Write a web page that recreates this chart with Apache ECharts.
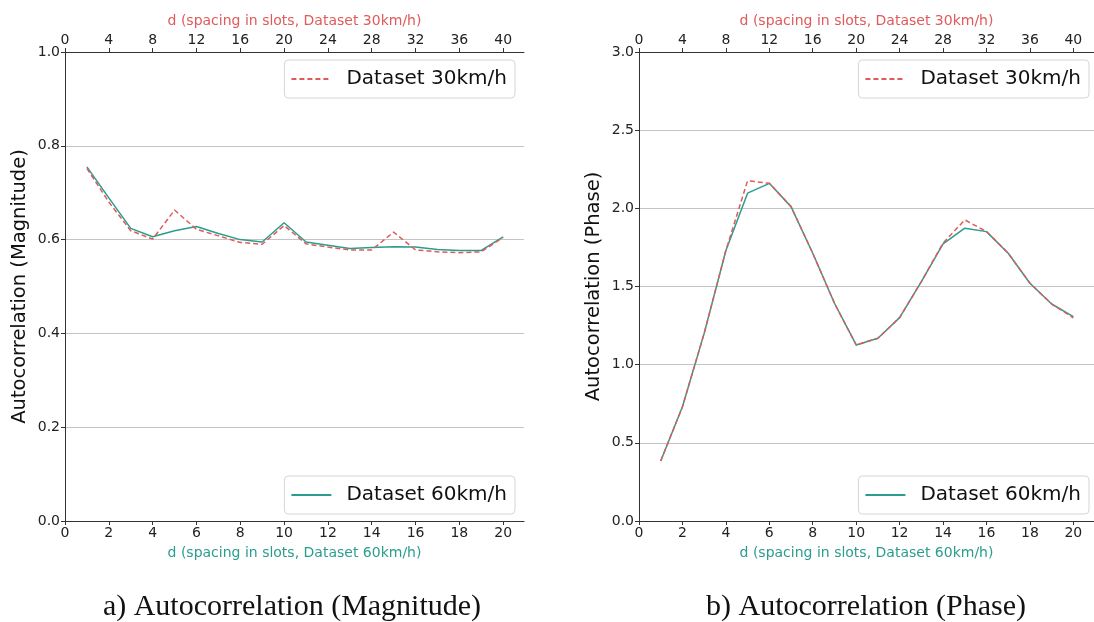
<!DOCTYPE html>
<html>
<head>
<meta charset="utf-8">
<script src="https://cdn.jsdelivr.net/npm/echarts@6/dist/echarts.min.js"></script>
<style>
  html, body { margin: 0; padding: 0; background: #fff; }
  #chart { width: 1094px; height: 622px; }
</style>
</head>
<body>
<div id="chart"></div>
<script>
// d values (spacing in slots)
const d60 = [1, 2, 3, 4, 5, 6, 7, 8, 9, 10, 11, 12, 13, 14, 15, 16, 17, 18, 19, 20]
const slots30 = [2, 4, 6, 8, 10, 12, 14, 16, 18, 20, 22, 24, 26, 28, 30, 32, 34, 36, 38, 40]

const mag60 = [0.755, 0.689, 0.624, 0.606, 0.619, 0.628, 0.613, 0.600, 0.595, 0.636,
  0.595, 0.588, 0.581, 0.583, 0.585, 0.584, 0.579, 0.577, 0.577, 0.606]
const mag30 = [0.752, 0.680, 0.619, 0.601, 0.663, 0.622, 0.608, 0.594, 0.590, 0.630,
  0.591, 0.584, 0.578, 0.578, 0.616, 0.578, 0.574, 0.572, 0.574, 0.605]

const phase60 = [0.384, 0.731, 1.200, 1.730, 2.097, 2.160, 2.011, 1.713, 1.393, 1.126,
  1.169, 1.301, 1.531, 1.772, 1.873, 1.851, 1.713, 1.521, 1.388, 1.307]
const phase30 = [0.384, 0.731, 1.200, 1.730, 2.177, 2.160, 2.011, 1.713, 1.393, 1.126,
  1.169, 1.301, 1.531, 1.778, 1.926, 1.851, 1.713, 1.521, 1.388, 1.300]

const bottomTicks = [0, 2, 4, 6, 8, 10, 12, 14, 16, 18, 20]
const topTicks = [0, 4, 8, 12, 16, 20, 24, 28, 32, 36, 40]
const magTicks = [0, 0.2, 0.4, 0.6, 0.8, 1.0]
const phaseTicks = [0, 0.5, 1.0, 1.5, 2.0, 2.5, 3.0]

const RED = '#e05a5a'
const TEAL = '#2a9d8f'
const FONT = 'DejaVu Sans'
const AXIS = '#333'

const chart = echarts.init(document.getElementById('chart'))

const tickLabel = { color: '#222', fontSize: 14, fontFamily: FONT }

function xAxes(gridIndex) {
  return [
    {
      gridIndex, type: 'value', position: 'bottom', min: 0, max: 20.95,
      name: 'd (spacing in slots, Dataset 60km/h)', nameLocation: 'middle', nameGap: 25,
      nameTextStyle: { color: TEAL, fontSize: 14, fontFamily: FONT },
      axisLine: { onZero: false, lineStyle: { color: AXIS } },
      axisTick: { length: 4, customValues: bottomTicks, lineStyle: { color: AXIS } },
      axisLabel: { ...tickLabel, margin: 5, customValues: bottomTicks },
      splitLine: { show: false },
    },
    {
      gridIndex, type: 'value', position: 'top', min: 0, max: 41.9,
      name: 'd (spacing in slots, Dataset 30km/h)', nameLocation: 'middle', nameGap: 23,
      nameTextStyle: { color: RED, fontSize: 14, fontFamily: FONT },
      axisLine: { onZero: false, lineStyle: { color: AXIS } },
      axisTick: { length: 4, customValues: topTicks, lineStyle: { color: AXIS } },
      axisLabel: { ...tickLabel, margin: 5, customValues: topTicks },
      splitLine: { show: false },
    },
  ]
}

function yAxes(gridIndex, name, max, ticks) {
  return [
    {
      gridIndex, type: 'value', position: 'left', min: 0, max,
      name, nameLocation: 'middle', nameGap: 35,
      nameTextStyle: { color: '#111', fontSize: 19.5, fontFamily: FONT },
      axisLine: { show: true, lineStyle: { color: AXIS } },
      axisTick: { show: true, length: 4, customValues: ticks, lineStyle: { color: AXIS } },
      axisLabel: { ...tickLabel, margin: 5, customValues: ticks, formatter: (v) => v.toFixed(1) },
      splitLine: { show: true, lineStyle: { color: '#c4c4c4', width: 1 } },
    },
    {
      gridIndex, type: 'value', position: 'right', min: 0, max,
      axisLine: { show: true, lineStyle: { color: AXIS } },
      axisTick: { show: false },
      axisLabel: { show: false },
      splitLine: { show: false },
    },
  ]
}

function lineSeries(name, xIdx, yIdx, xs, ys, color, dashed) {
  return {
    name, type: 'line', xAxisIndex: xIdx, yAxisIndex: yIdx,
    data: xs.map((x, i) => [x, ys[i]]),
    symbol: 'none', silent: true, animation: false,
    lineStyle: { color, width: 1.5, type: dashed ? [5, 3] : 'solid' },
    itemStyle: { color },
    z: dashed ? 3 : 2,
  }
}

function legend(seriesName, right, top) {
  return {
    data: [seriesName], right, top, orient: 'horizontal',
    itemWidth: 40, itemHeight: 14,
    padding: [9, 8, 9, 6],
    borderColor: '#d6d6d6', borderWidth: 1, borderRadius: 4,
    backgroundColor: 'rgba(255,255,255,0.85)',
    itemStyle: { opacity: 0 },
    textStyle: { fontSize: 20, color: '#111', fontFamily: FONT, padding: [0, 0, 0, 10] },
    selectedMode: false,
  }
}

chart.setOption({
  backgroundColor: '#fff',
  animation: false,
  title: [
    {
      text: 'a) Autocorrelation (Magnitude)', left: 287, top: 587, textAlign: 'center',
      textStyle: { fontFamily: 'Liberation Serif', fontWeight: 'normal', fontSize: 30, color: '#111' },
    },
    {
      text: 'b) Autocorrelation (Phase)', left: 861, top: 587, textAlign: 'center',
      textStyle: { fontFamily: 'Liberation Serif', fontWeight: 'normal', fontSize: 30, color: '#111' },
    },
  ],
  grid: [
    { left: 65, right: 570, top: 52, bottom: 101 },
    { left: 639, right: -4, top: 52, bottom: 101 },
  ],
  xAxis: [...xAxes(0), ...xAxes(1)],
  yAxis: [
    ...yAxes(0, 'Autocorrelation (Magnitude)', 1.0, magTicks),
    ...yAxes(1, 'Autocorrelation (Phase)', 3.0, phaseTicks),
  ],
  legend: [
    legend('Dataset 30km/h', 579, 60),
    legend('Dataset 60km/h', 579, 476),
    legend('Dataset 30km/h', 5, 60),
    legend('Dataset 60km/h', 5, 476),
  ],
  series: [
    lineSeries('Dataset 60km/h', 0, 0, d60, mag60, TEAL, false),
    lineSeries('Dataset 30km/h', 1, 0, slots30, mag30, RED, true),
    lineSeries('Dataset 60km/h', 2, 2, d60, phase60, TEAL, false),
    lineSeries('Dataset 30km/h', 3, 2, slots30, phase30, RED, true),
  ],
})
</script>
</body>
</html>
